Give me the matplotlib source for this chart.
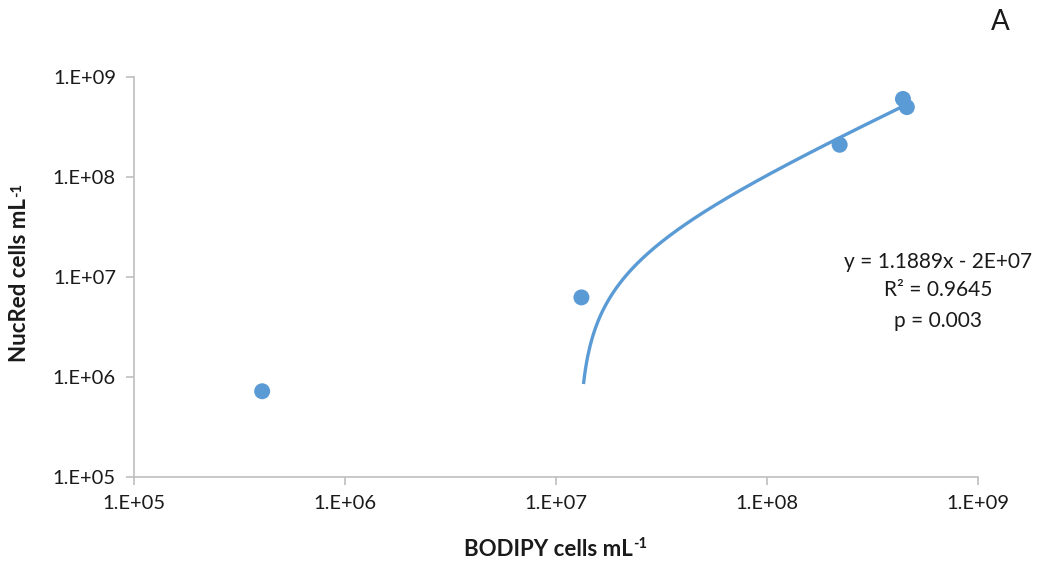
import numpy as np
import matplotlib
matplotlib.use("Agg")
import matplotlib.pyplot as plt

plt.rcParams['font.family'] = ['Lato', 'DejaVu Sans']

# Cell counts (cells per mL)
bodipy = [4.05e5, 1.32e7, 2.21e8, 4.41e8, 4.60e8]
nucred = [7.2e5, 6.25e6, 2.10e8, 6.03e8, 5.00e8]

# Linear fit y = a*x + b
slope = 1.1889
intercept = -1.52e7
fit_start = 1.35e7  # first x where the fit is positive on the log axis

tick_vals = [1e5, 1e6, 1e7, 1e8, 1e9]
tick_labels = ["1.E+05", "1.E+06", "1.E+07", "1.E+08", "1.E+09"]

blue = "#5B9BD5"
grey = "#BFBFBF"
ink = "#1a1a1a"

W, H = 1037, 564
fig = plt.figure(figsize=(W / 100, H / 100), dpi=100)
ax = fig.add_axes([0.1292, 0.1543, 0.8139, 0.7092])

xs = np.logspace(np.log10(fit_start), np.log10(max(bodipy)), 300)
ax.plot(xs, slope * xs + intercept, color=blue, lw=2.4, solid_capstyle='butt', zorder=2)
ax.scatter(bodipy, nucred, s=11.5**2, color=blue, edgecolors='none', zorder=3)

ax.set_xscale('log')
ax.set_yscale('log')
ax.set_xlim(1e5, 1e9)
ax.set_ylim(1e5, 1e9)
ax.set_xticks(tick_vals)
ax.set_xticklabels(tick_labels)
ax.set_yticks(tick_vals)
ax.set_yticklabels(tick_labels)
ax.minorticks_off()

for s in ['top', 'right']:
    ax.spines[s].set_visible(False)
for s in ['left', 'bottom']:
    ax.spines[s].set_color(grey)
    ax.spines[s].set_linewidth(1.2)
ax.tick_params(axis='both', direction='out', length=6, width=1.2, color=grey,
               labelsize=14.5, labelcolor=ink, pad=7)

# Axis titles with a superscript "-1"
def px(x, y):
    return x / W, 1 - y / H

lab_fs = 16
xl = fig.text(*px(548, 549), "BODIPY cells mL", fontsize=lab_fs, fontweight='bold',
              color=ink, ha='center', va='center')
yl = fig.text(*px(20, 280), "NucRed cells mL", fontsize=lab_fs, fontweight='bold',
              color=ink, ha='center', va='center', rotation=90)
fig.canvas.draw()
r = fig.canvas.get_renderer()
bx = xl.get_window_extent(r)
fig.text((bx.x1 + 1) / W, (bx.y1 + 2) / H, "-1", fontsize=10.5, fontweight='bold',
         color=ink, ha='left', va='top')
by = yl.get_window_extent(r)
fig.text((by.x0 + 1) / W, (by.y1 + 1) / H, "-1", fontsize=10.5, fontweight='bold',
         color=ink, ha='left', va='bottom', rotation=90)

fig.text(*px(938, 262), "y = 1.1889x - 2E+07", fontsize=15, color=ink, ha='center', va='center')
fig.text(*px(938, 290), "R² = 0.9645", fontsize=15, color=ink, ha='center', va='center')
fig.text(*px(938, 321), "p = 0.003", fontsize=15, color=ink, ha='center', va='center')

fig.text(*px(1000, 22), "A", fontsize=20, ha='center', va='center', color=ink)

fig.savefig("out.png", dpi=100)
